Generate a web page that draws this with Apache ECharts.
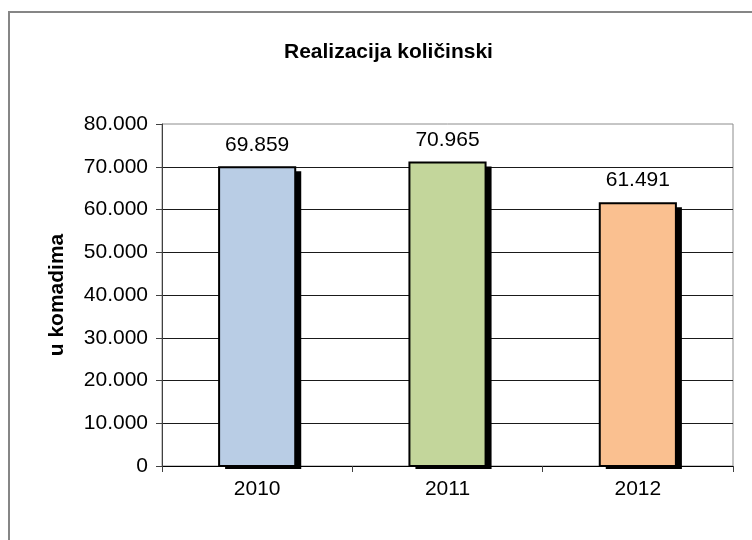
<!DOCTYPE html>
<html>
<head>
<meta charset="utf-8">
<script src="https://cdn.jsdelivr.net/npm/echarts@6/dist/echarts.min.js"></script>
<style>
  html, body { margin: 0; padding: 0; background: #fff; }
  #chart { width: 752px; height: 540px; }
</style>
</head>
<body>
<div id="chart"></div>
<script>
// podaci
const categories = ['2010', '2011', '2012'];
const values = [69859, 70965, 61491];
const barColors = ['#b9cde5', '#c3d69b', '#fac090'];

const FONT = 'Liberation Sans, Arial, sans-serif';

// 70965 -> "70.965"
function fmt(v) {
  return String(v).replace(/\B(?=(\d{3})+(?!\d))/g, '.');
}

// stupac sa sjenom (kao u Excelu): crna sjena pomaknuta desno/dolje, pa stupac preko nje
function renderBar(params, api) {
  const top = api.coord([api.value(0), api.value(1)]);
  const base = api.coord([api.value(0), 0]);
  const w = api.size([1, 0])[0] * 0.4;
  const x = top[0] - w / 2;
  const h = base[1] - top[1];
  return {
    type: 'group',
    children: [
      { type: 'rect', shape: { x: x + 6, y: top[1] + 4, width: w, height: h - 1 }, style: { fill: '#000' } },
      { type: 'rect', shape: { x: x, y: top[1], width: w, height: h },
        style: { fill: barColors[params.dataIndex], stroke: '#000', lineWidth: 2 } },
      { type: 'text', style: { text: fmt(api.value(1)), x: top[0], y: top[1] - 12,
        align: 'center', verticalAlign: 'bottom', fill: '#000', font: '21px ' + FONT } }
    ]
  };
}

const option = {
  animation: false,
  textStyle: { fontFamily: FONT },
  title: {
    text: 'Realizacija količinski',
    left: 279,
    top: 37,
    textStyle: { fontSize: 21, fontWeight: 'bold', color: '#000' }
  },
  graphic: [{
    type: 'rect',
    shape: { x: 9, y: 12, width: 800, height: 600 },
    style: { fill: 'none', stroke: '#868686', lineWidth: 2 },
    silent: true
  }],
  grid: {
    left: 162,
    top: 124,
    right: 19,
    bottom: 74,
    show: true,
    borderColor: '#8c8c8c',
    borderWidth: 1
  },
  xAxis: {
    type: 'category',
    data: categories,
    axisLine: { lineStyle: { color: '#000', width: 1 } },
    axisTick: { show: true, length: 6, lineStyle: { color: '#404040' } },
    axisLabel: { fontSize: 21, color: '#000', margin: 13 }
  },
  yAxis: {
    type: 'value',
    min: 0,
    max: 80000,
    interval: 10000,
    name: 'u komadima',
    nameLocation: 'middle',
    nameGap: 94,
    nameTextStyle: { fontSize: 21, fontWeight: 'bold', color: '#000' },
    axisLine: { show: true, lineStyle: { color: '#404040', width: 1 } },
    axisTick: { show: true, length: 6, lineStyle: { color: '#404040' } },
    axisLabel: { fontSize: 21, color: '#000', margin: 14, formatter: fmt },
    splitLine: { show: true, showMaxLine: false, lineStyle: { color: '#1a1a1a', width: 1 } }
  },
  series: [{
    type: 'custom',
    renderItem: renderBar,
    encode: { x: 0, y: 1 },
    data: values.map(function (v, i) { return [i, v]; })
  }]
};

const myChart = echarts.init(document.getElementById('chart'));
myChart.setOption(option);
</script>
</body>
</html>
